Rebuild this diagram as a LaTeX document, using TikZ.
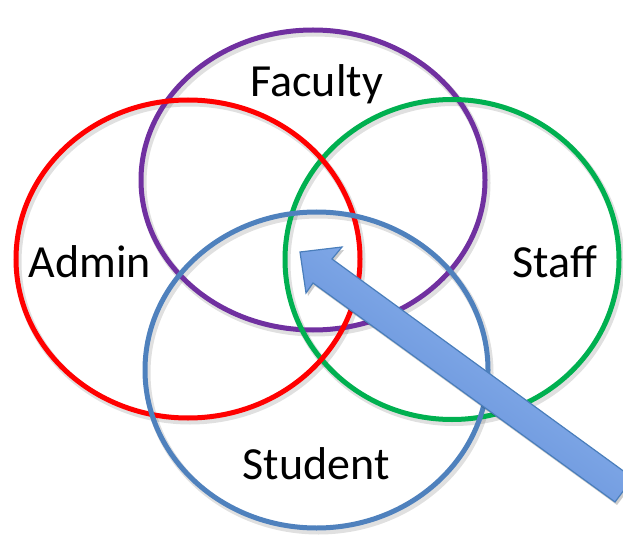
\documentclass[tikz,border=0pt]{standalone}
\usepackage{fontspec}
\setmainfont{Carlito}
\usetikzlibrary{shapes.geometric}

\definecolor{admincol}{HTML}{FF0000}
\definecolor{facultycol}{HTML}{7030A0}
\definecolor{staffcol}{HTML}{00B050}
\definecolor{studentcol}{HTML}{4F81BD}
\definecolor{arrowline}{HTML}{4A7EBB}
\definecolor{arrowlight}{HTML}{97BCF3}
\definecolor{arrowdark}{HTML}{5886D3}

\tikzset{
  ring/.style={ellipse, draw=#1, line width=5pt, inner sep=0pt},
  ringshade/.style={ellipse, draw=black, draw opacity=0.12, line width=7pt, inner sep=0pt},
  setlabel/.style={font=\fontsize{46}{55}\selectfont, inner sep=0pt, anchor=base},
}

% outline of the block arrow
\newcommand{\blockarrow}{(300,252) -- (342,247) -- (332,259) -- (633,478) -- (615,502)
  -- (313,283) -- (306,293) -- cycle}

\begin{document}
\begin{tikzpicture}[x=1pt,y=-1pt]
	\useasboundingbox (0,0) rectangle (623,537);
	% soft shadows under the rings
	\begin{scope}[shift={(2,3)}]
		\node[ringshade, minimum width=344pt, minimum height=300pt] (facultysh) at (313,180) {};
		\node[ringshade, minimum width=334pt, minimum height=320pt] (staffsh) at (452,259.5) {};
		\node[ringshade, minimum width=344pt, minimum height=318pt] (adminsh) at (188,259) {};
		\node[ringshade, minimum width=343pt, minimum height=316pt] (studentsh) at (316.5,370) {};
	\end{scope}
	% the four sets
	\node[ring=facultycol, minimum width=344pt, minimum height=300pt] (faculty) at (313,180) {};
	\node[ring=staffcol, minimum width=334pt, minimum height=320pt] (staff) at (452,259.5) {};
	\node[ring=admincol, minimum width=344pt, minimum height=318pt] (admin) at (188,259) {};
	\node[ring=studentcol, minimum width=343pt, minimum height=316pt] (student) at (316.5,370) {};
	% labels
	\node[setlabel] (facultylbl) at (316.7,97) {Faculty};
	\node[setlabel] (adminlbl) at (90,277) {Admin};
	\node[setlabel] (stafflbl) at (555,277) {Staff};
	\node[setlabel] (studentlbl) at (316,479) {Student};
	% arrow into the middle
	\fill[black, opacity=0.2, shift={(2,3)}] \blockarrow;
	\draw[arrowline, line width=1.2pt, top color=arrowlight, bottom color=arrowdark,
		shading angle=-36] \blockarrow;
\end{tikzpicture}
\end{document}
